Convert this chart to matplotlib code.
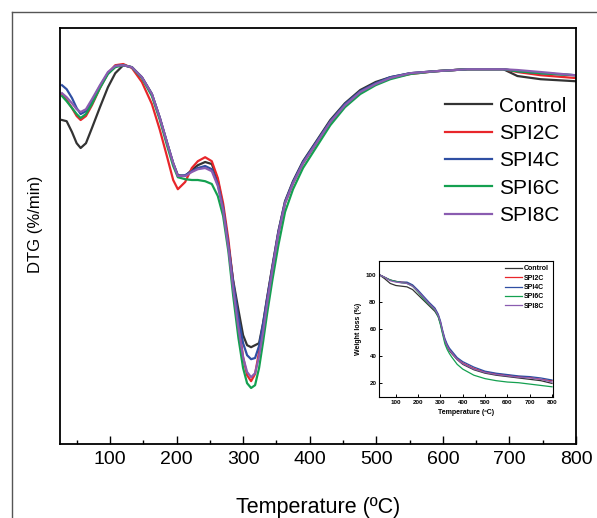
import matplotlib.pyplot as plt
from matplotlib.lines import Line2D

plt.rcParams['font.family'] = ['Liberation Sans', 'DejaVu Sans']

# main DTG curves (arbitrary %/min units)
temp = [28, 35, 43, 50, 56, 64, 73, 85, 97, 108, 120, 133, 148, 163, 175, 186, 195, 202,
        213, 223, 232, 243, 253, 262, 270, 278, 285, 293, 300, 306, 312, 318, 324, 330,
        336, 344, 353, 363, 375, 390, 408, 431, 453, 476, 499, 521, 551, 589, 637, 691,
        712, 747, 799]

dtg_control = [-1.5, -1.53, -1.8, -2.08, -2.2, -2.08, -1.7, -1.18, -0.68, -0.33, -0.13, -0.18,
               -0.43, -0.85, -1.45, -2.08, -2.58, -2.88, -2.9, -2.75, -2.63, -2.55, -2.6, -3.0,
               -3.68, -4.63, -5.5, -6.25, -6.88, -7.13, -7.18, -7.13, -7.08, -6.58, -5.95,
               -5.15, -4.28, -3.53, -3.03, -2.53, -2.08, -1.5, -1.08, -0.75, -0.55, -0.43,
               -0.33, -0.28, -0.23, -0.23, -0.4, -0.48, -0.53]
dtg_spi2c = [-0.85, -1.0, -1.2, -1.4, -1.5, -1.4, -1.13, -0.7, -0.33, -0.13, -0.1, -0.2,
             -0.55, -1.1, -1.75, -2.43, -3.0, -3.23, -3.05, -2.7, -2.53, -2.43, -2.53, -2.95,
             -3.58, -4.5, -5.55, -6.55, -7.43, -7.88, -8.03, -7.85, -7.3, -6.65, -6.0, -5.2,
             -4.33, -3.58, -3.08, -2.58, -2.13, -1.55, -1.13, -0.8, -0.6, -0.45, -0.35,
             -0.28, -0.23, -0.23, -0.3, -0.38, -0.45]
dtg_spi4c = [-0.63, -0.73, -0.95, -1.2, -1.35, -1.28, -1.03, -0.65, -0.33, -0.15, -0.13,
             -0.18, -0.43, -0.85, -1.45, -2.08, -2.58, -2.9, -2.88, -2.78, -2.7, -2.65,
             -2.73, -3.1, -3.7, -4.63, -5.55, -6.45, -7.08, -7.38, -7.48, -7.45, -7.15,
             -6.6, -5.98, -5.18, -4.3, -3.55, -3.05, -2.55, -2.1, -1.53, -1.1, -0.78,
             -0.58, -0.43, -0.33, -0.28, -0.23, -0.23, -0.28, -0.33, -0.38]
dtg_spi6c = [-0.9, -1.03, -1.2, -1.35, -1.45, -1.35, -1.1, -0.7, -0.35, -0.18, -0.13, -0.18,
             -0.45, -0.9, -1.5, -2.15, -2.65, -2.93, -2.98, -3.0, -3.0, -3.03, -3.1, -3.4,
             -3.9, -4.8, -5.88, -6.95, -7.7, -8.08, -8.2, -8.13, -7.7, -7.05, -6.35, -5.5,
             -4.63, -3.8, -3.23, -2.7, -2.23, -1.63, -1.18, -0.85, -0.63, -0.48, -0.35,
             -0.28, -0.23, -0.23, -0.28, -0.33, -0.38]
dtg_spi8c = [-0.83, -0.93, -1.08, -1.23, -1.3, -1.23, -0.98, -0.63, -0.3, -0.15, -0.13,
             -0.18, -0.43, -0.85, -1.45, -2.08, -2.58, -2.9, -2.9, -2.8, -2.73, -2.7, -2.78,
             -3.15, -3.75, -4.7, -5.7, -6.7, -7.43, -7.8, -7.93, -7.83, -7.4, -6.8, -6.1,
             -5.25, -4.35, -3.58, -3.08, -2.58, -2.13, -1.55, -1.13, -0.8, -0.6, -0.45,
             -0.33, -0.28, -0.23, -0.23, -0.25, -0.3, -0.38]

# inset TG curves
tg_temp = [25, 50, 75, 100, 125, 150, 175, 200, 225, 250, 275, 290, 300, 310, 320, 330,
           340, 350, 375, 400, 450, 500, 550, 600, 650, 700, 750, 800]
tg_control = [100, 97, 93.5, 92, 91.5, 91, 89, 85, 81, 77, 73, 69, 64, 57, 51, 47, 44, 42,
              37.5, 34, 30, 27.5, 26, 25, 24, 23, 22, 20]
tg_spi2c = [100, 98, 96, 95, 94.5, 94, 92, 88, 83, 79, 75, 70, 65, 58, 52, 48, 45, 43, 38,
            35, 31, 28.5, 27, 26, 25, 24.5, 23, 22]
tg_spi4c = [100, 98, 96, 95, 94.5, 94.5, 92.5, 88.5, 84, 79.5, 75.5, 71, 66, 59, 53, 49,
            46, 44, 39, 36, 32, 29, 27.5, 26.5, 25.5, 25, 24, 22.5]
tg_spi6c = [100, 98, 96, 95, 94, 93.5, 91.5, 87, 82, 78, 74, 69, 63, 56, 49, 45, 42, 39.5,
            34, 30.5, 26, 23.5, 22, 21, 20.5, 19.5, 18.5, 17.5]
tg_spi8c = [100, 98, 95.5, 94.5, 94, 93.5, 91.5, 87.5, 83, 78.5, 74.5, 70, 65, 58, 51.5,
            47.5, 44.5, 42.5, 37.5, 34.5, 30.5, 28, 26.5, 25.5, 24.5, 24, 23, 21]

labels = ["Control", "SPI2C", "SPI4C", "SPI6C", "SPI8C"]
colors = ["#333333", "#e8262b", "#2f4fa3", "#14a050", "#8a5cb0"]
dtg_all = [dtg_control, dtg_spi2c, dtg_spi4c, dtg_spi6c, dtg_spi8c]
tg_all = [tg_control, tg_spi2c, tg_spi4c, tg_spi6c, tg_spi8c]

fig = plt.figure(figsize=(5.97, 5.18), dpi=100)
ax = fig.add_axes([0.1005, 0.1429, 0.8643, 0.803])

for y, lab, c in zip(dtg_all, labels, colors):
    ax.plot(temp, y, color=c, lw=1.6, label=lab)

ax.set_xlim(25, 800)
ax.set_ylim(-9.6, 0.8)
ax.set_xticks(range(100, 801, 100))
ax.set_xticks(range(50, 801, 100), minor=True)
ax.set_yticks([])
ax.tick_params(axis='x', which='major', direction='in', length=6, width=1,
               labelsize=14, pad=5, top=False)
ax.tick_params(axis='x', which='minor', direction='in', length=3, width=1, top=False)
for s in ax.spines.values():
    s.set_linewidth(1.3)

ax.set_xlabel("Temperature (ºC)", fontsize=15.5)
ax.xaxis.set_label_coords(0.5, -0.127)
ax.set_ylabel("DTG (%/min)", fontsize=12)
ax.yaxis.set_label_coords(-0.033, 0.529)

ax.legend(loc='upper right', bbox_to_anchor=(0.998, 0.855), frameon=False, fontsize=15,
          handlelength=2.25, handletextpad=0.35, labelspacing=0.4, borderaxespad=0)

# inset
ins = fig.add_axes([0.635, 0.2336, 0.2915, 0.2625])
for y, lab, c in zip(tg_all, labels, colors):
    ins.plot(tg_temp, y, color=c, lw=0.9, label=lab)
ins.set_xlim(25, 805)
ins.set_ylim(10, 110)
ins.set_xticks(range(100, 801, 100))
ins.set_yticks(range(20, 101, 20))
ins.tick_params(direction='in', length=2, width=0.7, labelsize=4.5, pad=2)
for t in ins.get_xticklabels() + ins.get_yticklabels():
    t.set_fontweight('bold')
for s in ins.spines.values():
    s.set_linewidth(0.8)
ins.set_xlabel("Temperature (ºC)", fontsize=5, fontweight='bold', labelpad=3)
ins.set_ylabel("Weight loss (%)", fontsize=5, fontweight='bold', labelpad=3)
leg = ins.legend(loc='upper right', frameon=False, fontsize=5, handlelength=2.4,
                 handletextpad=0.3, labelspacing=0.35, borderaxespad=0.2)
for t in leg.get_texts():
    t.set_fontweight('bold')

# outer frame of the picture
fig.add_artist(Line2D([12 / 597, 1], [1 - 12 / 518, 1 - 12 / 518], color='#555555', lw=1))
fig.add_artist(Line2D([12 / 597, 12 / 597], [0, 1 - 12 / 518], color='#555555', lw=1))

fig.savefig("out.png", dpi=100)
